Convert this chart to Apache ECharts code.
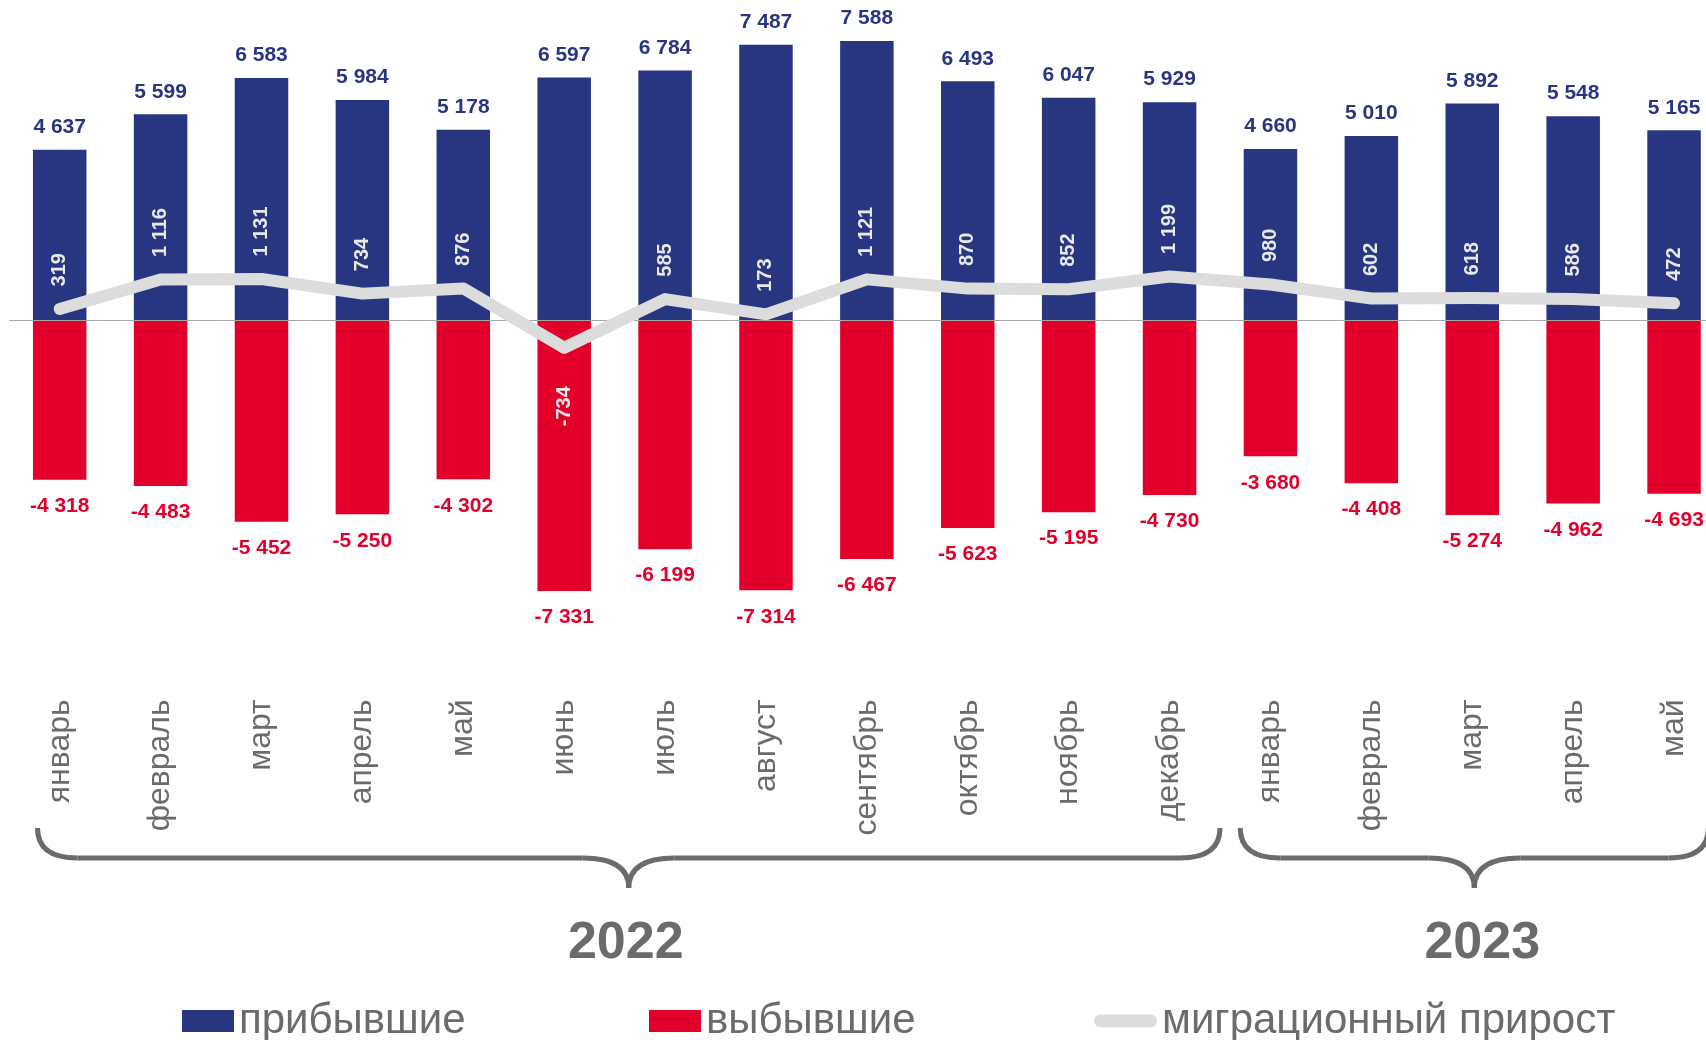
<!DOCTYPE html>
<html>
<head>
<meta charset="utf-8">
<script src="https://cdn.jsdelivr.net/npm/echarts@6/dist/echarts.min.js"></script>
<style>
  html, body { margin: 0; padding: 0; background: #fff; }
  #chart { width: 1706px; height: 1040px; }
</style>
</head>
<body>
<div id="chart"></div>
<script>
// Миграция по месяцам: прибывшие / выбывшие столбцами, прирост линией.
const months = ['январь', 'февраль', 'март', 'апрель', 'май', 'июнь', 'июль', 'август',
  'сентябрь', 'октябрь', 'ноябрь', 'декабрь', 'январь', 'февраль', 'март', 'апрель', 'май'];
const arrived = [4637, 5599, 6583, 5984, 5178, 6597, 6784, 7487, 7588, 6493, 6047, 5929,
  4660, 5010, 5892, 5548, 5165];
const departed = [-4318, -4483, -5452, -5250, -4302, -7331, -6199, -7314, -6467, -5623, -5195, -4730,
  -3680, -4408, -5274, -4962, -4693];
const netGain = [319, 1116, 1131, 734, 876, -734, 585, 173, 1121, 870, 852, 1199,
  980, 602, 618, 586, 472];
// годы: первый и последний индекс месяца
const years = [
  { name: '2022', from: 0, to: 11 },
  { name: '2023', from: 12, to: 16 },
];

const BLUE = '#283682', RED = '#e2002b', LINE = '#dcdcdc', GREY = '#6b6b6b';
const FONT = '"Liberation Sans", Arial, sans-serif';

const fmt = v => (v < 0 ? '-' : '') + String(Math.abs(v)).replace(/\B(?=(\d{3})+(?!\d))/g, ' ');

const chart = echarts.init(document.getElementById('chart'));

chart.setOption({
  animation: false,
  backgroundColor: '#fff',
  textStyle: { fontFamily: FONT },
  // последний столбец обрезан правым краем, как в оригинале
  grid: {
    left: 9.25, right: -18.5, top: 25.8, bottom: 350.7,
    containLabel: false, outerBoundsMode: 'none',
  },
  legend: [
    legendItem('прибывшие', 182, { icon: 'rect', itemWidth: 52, itemHeight: 22 }),
    legendItem('выбывшие', 649, { icon: 'rect', itemWidth: 52, itemHeight: 22 }),
    legendItem('миграционный прирост', 1094, {
      itemWidth: 63, itemHeight: 13,
      icon: 'path://M6.5,0 H56.5 A6.5,6.5 0 0 1 56.5,13 H6.5 A6.5,6.5 0 0 1 6.5,0 Z',
    }),
  ],
  xAxis: {
    type: 'category',
    data: months,
    axisLine: { show: false },
    axisTick: { show: false },
    axisLabel: {
      rotate: 90, margin: 10, interval: 0,
      fontSize: 32, color: GREY, fontFamily: FONT,
    },
  },
  yAxis: {
    type: 'value', min: -10000, max: 8000,
    show: false, splitLine: { show: false },
  },
  series: [
    {
      name: 'прибывшие',
      type: 'bar',
      data: arrived,
      barWidth: 53.5,
      barGap: '-100%',
      itemStyle: { color: BLUE },
      label: {
        show: true, position: 'top', distance: 12,
        color: BLUE, fontSize: 21, fontWeight: 'bold', fontFamily: FONT,
        formatter: p => fmt(p.value),
      },
      markLine: {
        silent: true, symbol: 'none', z: 3,
        label: { show: false },
        lineStyle: { color: '#a6a6a6', width: 1, type: 'solid' },
        data: [{ yAxis: 0 }],
      },
    },
    {
      name: 'выбывшие',
      type: 'bar',
      data: departed,
      barWidth: 53.5,
      itemStyle: { color: RED },
      label: {
        show: true, position: 'bottom', distance: 16,
        color: RED, fontSize: 21, fontWeight: 'bold', fontFamily: FONT,
        formatter: p => fmt(p.value),
      },
    },
    {
      name: 'миграционный прирост',
      type: 'line',
      z: 5,
      data: netGain.map(v => v < 0
        ? { value: v, label: { position: 'bottom', align: 'right', distance: 38 } }
        : v),
      symbol: 'circle', symbolSize: 1,
      itemStyle: { color: LINE },
      lineStyle: { color: LINE, width: 12, cap: 'round', join: 'round' },
      label: {
        show: true, position: 'top', distance: 22,
        rotate: 90, align: 'left', verticalAlign: 'middle',
        color: '#e8e8e8', fontSize: 20, fontWeight: 'bold', fontFamily: FONT,
        formatter: p => fmt(p.value),
      },
    },
  ],
});

function legendItem(name, left, extra) {
  return Object.assign({
    data: [name], left, top: 1000, padding: 0,
    itemGap: 0, selectedMode: false,
    textStyle: { fontSize: 42, color: GREY, fontFamily: FONT },
  }, extra);
}

// фигурная скобка из линий и квадратичных кривых
function brace(x1, x2, yTop, yLine, yTip) {
  const xc = (x1 + x2) / 2, rx = 40, cx = 46;
  const style = { stroke: GREY, lineWidth: 5, fill: null, lineCap: 'butt' };
  const curve = (a, b, c, d, cpx, cpy) => ({
    type: 'bezierCurve', silent: true, style,
    shape: { x1: a, y1: b, x2: c, y2: d, cpx1: cpx, cpy1: cpy },
  });
  const line = (a, b) => ({
    type: 'line', silent: true, style,
    shape: { x1: a, y1: yLine, x2: b, y2: yLine },
  });
  return [
    curve(x1, yTop, x1 + rx, yLine, x1, yLine),
    line(x1 + rx, xc - cx),
    curve(xc - cx, yLine, xc, yTip, xc, yLine),
    curve(xc, yTip, xc + cx, yLine, xc, yLine),
    line(xc + cx, x2 - rx),
    curve(x2 - rx, yLine, x2, yTop, x2, yLine),
  ];
}

const px = i => chart.convertToPixel({ xAxisIndex: 0 }, i);
const band = px(1) - px(0);
const braceEnds = [[-0.22, 0.5], [-0.3, 0.34]];
const yearShift = [-3, 8]; // подпись года чуть смещена от острия скобки
const graphic = [];
years.forEach((y, k) => {
  const x1 = px(y.from) + braceEnds[k][0] * band;
  const x2 = px(y.to) + braceEnds[k][1] * band;
  const xc = (x1 + x2) / 2;
  graphic.push(...brace(x1, x2, 828, 858, 888));
  graphic.push({
    type: 'text', silent: true, x: xc + yearShift[k], y: 944,
    style: {
      text: y.name, fill: GREY, font: `bold 52px ${FONT}`,
      align: 'center', verticalAlign: 'middle',
      textAlign: 'center', textVerticalAlign: 'middle',
    },
  });
});
chart.setOption({ graphic });
</script>
</body>
</html>
